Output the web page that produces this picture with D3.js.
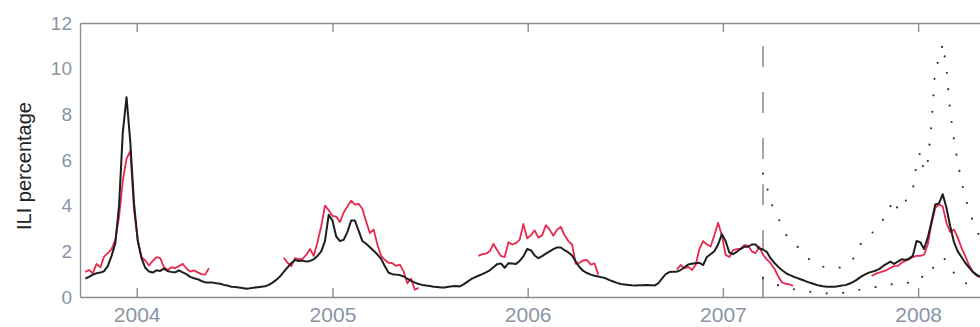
<!DOCTYPE html>
<html>
<head>
<meta charset="utf-8">
<script src="https://cdn.jsdelivr.net/npm/d3@7"></script>
<style>
  html, body { margin: 0; padding: 0; background: #fff; }
  svg { display: block; }
  .tick-label { font-family: "Liberation Sans", Arial, sans-serif; fill: #8a95a5; }
</style>
</head>
<body>
<svg id="chart" width="980" height="327"></svg>
<script>
// Weekly series, first week ending 2003-09-27
const firstWeek = "2003-09-27";

// Model estimate of ILI percentage, one value per week
const estimateValues = [
  0.81, 0.88, 0.98, 1.04, 1.07, 1.13, 1.35, 1.8, 2.35, 4.0,
  7.2, 8.75, 6.8, 4.1, 2.45, 1.7, 1.28, 1.12, 1.07, 1.17,
  1.14, 1.24, 1.13, 1.1, 1.08, 1.17, 1.08, 1.0, 0.88, 0.82,
  0.78, 0.7, 0.64, 0.63, 0.63, 0.6, 0.58, 0.53, 0.5, 0.45,
  0.44, 0.42, 0.39, 0.36, 0.38, 0.41, 0.43, 0.45, 0.47, 0.53,
  0.63, 0.75, 0.9, 1.1, 1.3, 1.48, 1.62, 1.58, 1.6, 1.55,
  1.58, 1.65, 1.8, 2.0, 2.45, 3.6, 3.35, 2.65, 2.45, 2.5,
  2.85, 3.35, 3.35, 2.9, 2.45, 2.33, 2.18, 2.03, 1.86, 1.67,
  1.35, 1.06, 1.0, 0.98, 0.96, 0.9, 0.8, 0.71, 0.63, 0.57,
  0.53, 0.5, 0.48, 0.45, 0.44, 0.42, 0.42, 0.45, 0.47, 0.48,
  0.46, 0.55, 0.66, 0.78, 0.86, 0.93, 1.0, 1.08, 1.17, 1.3,
  1.44, 1.47, 1.28, 1.48, 1.47, 1.45, 1.58, 1.78, 2.1, 2.05,
  1.82, 1.7, 1.79, 1.9, 2.0, 2.1, 2.17, 2.17, 2.05, 1.95,
  1.82, 1.55, 1.3, 1.14, 1.05, 0.98, 0.93, 0.9, 0.86, 0.82,
  0.74, 0.68, 0.62, 0.57, 0.55, 0.53, 0.51, 0.5, 0.51, 0.52,
  0.53, 0.52, 0.5, 0.6, 0.8, 1.0, 1.09, 1.11, 1.11, 1.18,
  1.3, 1.42, 1.46, 1.48, 1.5, 1.4, 1.75, 1.87, 2.0, 2.3,
  2.75, 2.45, 1.95, 1.88, 1.98, 2.1, 2.2, 2.2, 2.3, 2.3,
  2.12, 2.08, 1.98, 1.7, 1.5, 1.33, 1.18, 1.06, 0.97, 0.9,
  0.84, 0.78, 0.72, 0.65, 0.6, 0.55, 0.5, 0.47, 0.45, 0.45,
  0.45, 0.47, 0.5, 0.52, 0.58, 0.65, 0.75, 0.87, 0.97, 1.05,
  1.1, 1.15, 1.22, 1.35, 1.45, 1.55, 1.45, 1.55, 1.65, 1.62,
  1.68, 1.8, 2.45, 2.4, 2.1, 2.6, 3.3, 4.05, 4.1, 4.5,
  3.9, 3.1, 2.4, 2.0, 1.75, 1.5, 1.3, 1.1, 0.98, 0.88
];

// Reported ILI percentages, one array per flu season, starting at the given week index
const reportedSeasonStarts = [0, 53, 105, 158, 210];
const reported2003 = [
  1.1, 1.18, 1.04, 1.45, 1.3, 1.77, 1.92, 2.1, 2.5, 3.5,
  5.1, 6.05, 6.4, 3.82, 2.5, 1.75, 1.6, 1.38, 1.58, 1.75,
  1.7, 1.3, 1.18, 1.3, 1.27, 1.35, 1.45, 1.25, 1.11, 1.17,
  1.08, 1.0, 0.98, 1.26
];
const reported2004 = [
  1.72, 1.5, 1.35, 1.7, 1.66, 1.67, 1.84, 2.1, 1.8, 2.4,
  3.1, 4.0, 3.8, 3.55, 3.52, 3.28, 3.7, 3.97, 4.22, 4.05,
  4.08, 3.85, 3.3, 2.8, 2.95, 2.3, 1.8, 1.62, 1.5, 1.48,
  1.36, 1.42, 1.12, 0.6, 0.8, 0.32, 0.4
];
const reported2005 = [
  1.8, 1.88, 1.9, 2.0, 2.33, 2.05, 1.8, 1.75, 2.4, 2.3,
  2.36, 2.5, 3.2, 2.57, 2.7, 2.92, 2.6, 2.7, 3.15, 2.95,
  2.68, 2.95, 3.07, 2.7, 2.45, 2.3, 1.45, 1.5, 1.6, 1.62,
  1.42, 1.47, 0.98
];
const reported2006 = [
  1.2, 1.4, 1.25, 1.32, 1.18, 1.4, 2.1, 2.45, 2.3, 2.21,
  2.7, 3.25, 2.7, 1.85, 1.75, 2.05, 2.1, 2.12, 2.27, 2.25,
  2.0, 1.92, 2.2, 1.85, 1.65, 1.48, 1.25, 0.92, 0.65, 0.58,
  0.55, 0.5
];
const reported2007 = [
  0.92, 1.01, 1.07, 1.12, 1.18, 1.27, 1.35, 1.36, 1.5, 1.58,
  1.65, 1.75, 1.8, 1.8, 1.85, 2.3, 3.2, 3.9, 4.05, 3.96,
  3.25, 2.85, 2.95, 2.6, 2.15, 1.8, 1.4, 1.12, 0.94, 0.88
];

// End of the fitting period; prediction intervals start at this week index
const fitEndWeek = 181;
const upperBound = [
  5.4, 4.85, 4.2, 3.78, 3.47, 3.14, 2.76, 2.53, 2.38, 2.24,
  2.07, 1.89, 1.7, 1.55, 1.48, 1.4, 1.33, 1.29, 1.28, 1.27,
  1.27, 1.31, 1.42, 1.53, 1.65, 1.97, 2.31, 2.47, 2.62, 2.78,
  2.95, 3.1, 3.37, 3.7, 4.0, 3.62, 4.0, 4.35, 4.2, 4.35,
  4.7, 5.8, 6.35, 5.5, 5.9, 7.6, 10.0, 10.4, 11.1, 10.0,
  8.1, 6.9, 5.9, 5.05, 4.4, 3.78, 3.35, 2.95, 2.6
];
const lowerBound = [
  0.82, 0.75, 0.67, 0.6, 0.52, 0.47, 0.43, 0.39, 0.35, 0.31,
  0.29, 0.26, 0.24, 0.22, 0.2, 0.18, 0.17, 0.16, 0.16, 0.16,
  0.17, 0.18, 0.19, 0.21, 0.24, 0.28, 0.33, 0.37, 0.4, 0.42,
  0.43, 0.45, 0.49, 0.53, 0.57, 0.53, 0.57, 0.61, 0.6, 0.63,
  0.68, 0.8, 0.92, 0.84, 0.88, 1.15, 1.45, 1.57, 1.72, 1.6,
  1.3, 1.05, 0.85, 0.72, 0.62, 0.53, 0.46, 0.4, 0.34
];

const yTicks = [0, 2, 4, 6, 8, 10, 12];
const yearTicks = ["2004", "2005", "2006", "2007", "2008"];
const yTitle = "ILI percentage";

// ---- layout ----
const margin = { top: 23, left: 80 };
const innerW = 905, innerH = 274;

const parse = d3.utcParse("%Y-%m-%d");
const week0 = parse(firstWeek);
const weekDate = i => d3.utcDay.offset(week0, 7 * i);

const x = d3.scaleUtc()
  .domain([parse("2003-09-17"), parse("2008-05-05")])
  .range([0, innerW]);
const y = d3.scaleLinear().domain([0, 12]).range([innerH, 0]);

const svg = d3.select("#chart");
const g = svg.append("g").attr("transform", `translate(${margin.left},${margin.top})`);

svg.append("defs").append("clipPath").attr("id", "plot-clip")
  .append("rect").attr("x", 0).attr("y", -2).attr("width", innerW).attr("height", innerH + 4);

const frameColor = "#8c8c8c";
const yearDates = yearTicks.map(t => parse(t + "-01-01"));

// bottom axis: year labels with ticks pointing into the plot
const xAxis = g.append("g").attr("transform", `translate(0,${innerH})`)
  .call(d3.axisBottom(x).tickValues(yearDates).tickFormat(d3.utcFormat("%Y"))
    .tickSizeInner(-9).tickSizeOuter(0).tickPadding(10));
xAxis.selectAll("text").attr("class", "tick-label").style("font-size", "21px");

// top axis: ticks only
const xTop = g.append("g")
  .call(d3.axisTop(x).tickValues(yearDates).tickFormat("").tickSizeInner(-9).tickSizeOuter(0));

// left axis: labels only
const yAxis = g.append("g")
  .call(d3.axisLeft(y).tickValues(yTicks).tickFormat(d3.format("d")).tickSize(0).tickPadding(8));
yAxis.selectAll("text").attr("class", "tick-label").style("font-size", "19px");

[xAxis, xTop, yAxis].forEach(a => {
  a.select(".domain").attr("stroke", frameColor).attr("stroke-width", 1.4);
  a.selectAll(".tick line").attr("stroke", frameColor).attr("stroke-width", 1.4);
});

// y title
svg.append("text")
  .attr("transform", `translate(31,166) rotate(-90)`)
  .attr("text-anchor", "middle")
  .style("font-family", "'Liberation Sans', Arial, sans-serif")
  .style("font-size", "20px")
  .attr("fill", "#222")
  .text(yTitle);

// end-of-fit marker
const xCut = x(weekDate(fitEndWeek));
g.append("line")
  .attr("x1", xCut).attr("x2", xCut)
  .attr("y1", innerH).attr("y2", 0)
  .attr("stroke", "#8a8a8a").attr("stroke-width", 1.5)
  .attr("stroke-dasharray", "21,25");

const plot = g.append("g").attr("clip-path", "url(#plot-clip)");

const line = d3.line()
  .x(d => x(d.date))
  .y(d => y(d.value));

const toPoints = (values, startIndex) =>
  values.map((v, i) => ({ date: weekDate(startIndex + i), value: v }));

// prediction intervals (dotted)
[upperBound, lowerBound].forEach(b => {
  plot.append("path")
    .datum(toPoints(b, fitEndWeek))
    .attr("d", line)
    .attr("fill", "none")
    .attr("stroke", "#333")
    .attr("stroke-width", 2.2)
    .attr("stroke-linecap", "round")
    .attr("stroke-dasharray", "0,16.5");
});

// reported seasons (red)
[reported2003, reported2004, reported2005, reported2006, reported2007].forEach((s, i) => {
  plot.append("path")
    .datum(toPoints(s, reportedSeasonStarts[i]))
    .attr("d", line)
    .attr("fill", "none")
    .attr("stroke", "#e8284f")
    .attr("stroke-width", 1.8)
    .attr("stroke-linejoin", "round");
});

// model estimate (black)
plot.append("path")
  .datum(toPoints(estimateValues, 0))
  .attr("d", line)
  .attr("fill", "none")
  .attr("stroke", "#1e1e1e")
  .attr("stroke-width", 2)
  .attr("stroke-linejoin", "round");
</script>
</body>
</html>
